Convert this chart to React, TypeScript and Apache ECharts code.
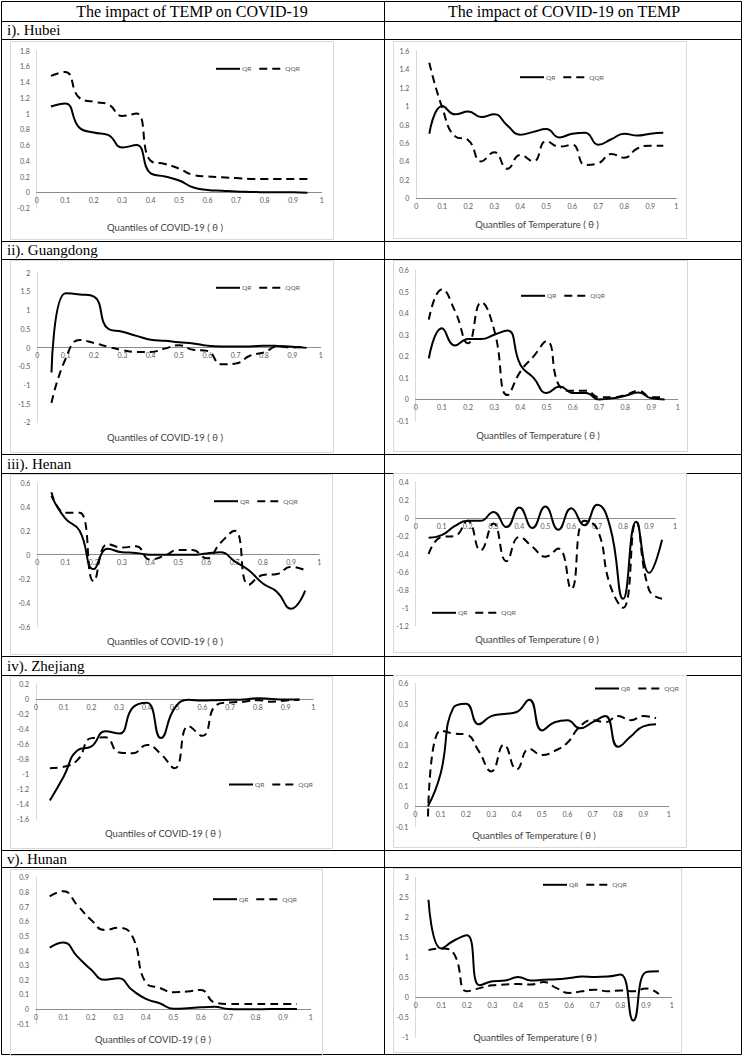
import React, { useEffect, useRef } from "react";
import * as echarts from "echarts";

// ---------- data ----------
const quantiles = [0.05, 0.1, 0.15, 0.2, 0.25, 0.3, 0.35, 0.4, 0.45, 0.5, 0.55, 0.6, 0.65, 0.7, 0.75, 0.8, 0.85, 0.9, 0.95];

const hubeiTempQR = [1.09, 1.13, 0.82, 0.76, 0.73, 0.57, 0.6, 0.24, 0.2, 0.15, 0.06, 0.03, 0.02, 0.01, 0.005, 0, 0, 0, -0.005];
const hubeiTempQQR = [1.48, 1.53, 1.2, 1.15, 1.12, 0.97, 1.0, 0.4, 0.36, 0.3, 0.22, 0.2, 0.19, 0.18, 0.17, 0.17, 0.17, 0.17, 0.17];
const hubeiCovidQR = [0.7, 1.0, 0.91, 0.94, 0.88, 0.91, 0.79, 0.69, 0.72, 0.75, 0.66, 0.7, 0.71, 0.58, 0.64, 0.7, 0.68, 0.7, 0.71];
const hubeiCovidQQR = [1.47, 0.98, 0.67, 0.63, 0.4, 0.5, 0.32, 0.47, 0.4, 0.62, 0.56, 0.58, 0.36, 0.38, 0.48, 0.44, 0.54, 0.57, 0.57];

const guangdongTempQR = [-0.67, 1.45, 1.42, 1.36, 0.5, 0.42, 0.31, 0.21, 0.18, 0.14, 0.11, 0.05, 0.03, 0.03, 0.03, 0.05, 0.04, 0.02, -0.01];
const guangdongTempQQR = [-1.48, -0.3, 0.2, 0.12, 0.02, -0.07, -0.12, -0.12, -0.03, 0.06, -0.06, -0.09, -0.45, -0.43, -0.22, -0.13, 0.03, 0.0, 0.03];
const guangdongCovidQR = [0.19, 0.33, 0.25, 0.28, 0.28, 0.3, 0.32, 0.16, 0.1, 0.03, 0.06, 0.03, 0.03, 0.0, 0.005, 0.017, 0.032, 0.005, 0.0];
const guangdongCovidQQR = [0.37, 0.51, 0.41, 0.26, 0.45, 0.32, 0.02, 0.13, 0.2, 0.27, 0.06, 0.04, 0.04, 0.01, 0.01, 0.02, 0.04, 0.01, 0.01];

const henanTempQR = [0.49, 0.3, 0.2, -0.12, 0.05, 0.02, 0.015, 0.0, 0.0, 0.0, 0.0, 0.01, 0.02, -0.055, -0.13, -0.24, -0.31, -0.45, -0.3];
const henanTempQQR = [0.52, 0.35, 0.35, -0.22, 0.09, 0.06, 0.07, -0.04, -0.01, 0.04, 0.04, -0.03, 0.1, 0.2, -0.25, -0.17, -0.16, -0.1, -0.13];
const henanCovidQR = [-0.22, -0.19, -0.09, -0.03, -0.03, 0.07, -0.1, 0.12, -0.11, 0.13, -0.13, 0.11, -0.08, 0.15, -0.1, -0.9, -0.04, -0.61, -0.24];
const henanCovidQQR = [-0.4, -0.21, -0.2, -0.03, -0.36, -0.06, -0.48, -0.21, -0.32, -0.43, -0.34, -0.79, -0.03, -0.12, -0.75, -1.0, -0.04, -0.8, -0.9];

const zhejiangTempQR = [-1.35, -1.03, -0.68, -0.63, -0.43, -0.46, -0.11, -0.05, -0.52, -0.12, -0.01, -0.02, -0.015, -0.01, -0.005, 0.01, 0.0, -0.005, -0.005];
const zhejiangTempQQR = [-0.92, -0.9, -0.81, -0.52, -0.51, -0.71, -0.72, -0.61, -0.73, -0.92, -0.36, -0.49, -0.08, -0.045, -0.035, -0.015, -0.035, -0.02, -0.01];
const zhejiangCovidQR = [0.0, 0.16, 0.48, 0.5, 0.4, 0.44, 0.45, 0.46, 0.52, 0.37, 0.41, 0.42, 0.38, 0.41, 0.44, 0.29, 0.34, 0.39, 0.4];
const zhejiangCovidQQR = [-0.05, 0.37, 0.355, 0.35, 0.27, 0.17, 0.3, 0.18, 0.28, 0.25, 0.27, 0.31, 0.39, 0.42, 0.41, 0.44, 0.42, 0.44, 0.43];

const hunanTempQR = [0.42, 0.455, 0.36, 0.27, 0.2, 0.21, 0.13, 0.07, 0.04, 0.002, 0.005, 0.012, 0.015, 0.0, -0.002, -0.002, 0, 0, 0];
const hunanTempQQR = [0.77, 0.805, 0.71, 0.61, 0.54, 0.555, 0.5, 0.18, 0.145, 0.115, 0.12, 0.13, 0.045, 0.035, 0.035, 0.035, 0.035, 0.035, 0.035];
const hunanCovidQR = [2.44, 1.22, 1.42, 1.55, 0.3, 0.4, 0.42, 0.51, 0.42, 0.44, 0.45, 0.48, 0.52, 0.51, 0.52, 0.57, -0.58, 0.63, 0.65];
const hunanCovidQQR = [1.18, 1.22, 1.08, 0.15, 0.23, 0.3, 0.32, 0.33, 0.32, 0.38, 0.23, 0.11, 0.15, 0.19, 0.15, 0.17, 0.15, 0.22, 0.08];

const seriesNames = ["QR", "QQR"];
const columnHeaders = ["The impact of TEMP on COVID-19", "The impact of COVID-19 on TEMP"];
const rowLabels = ["i). Hubei", "ii). Guangdong", "iii). Henan", "iv). Zhejiang", "v). Hunan"];
const covidAxisTitle = "Quantiles of COVID-19 ( \u03b8 )";
const tempAxisTitle = "Quantiles of Temperature ( \u03b8 )";

// ---------- layout ----------
const panels = [
  { qr: hubeiTempQR, qqr: hubeiTempQQR, yMin: -0.2, yMax: 1.8, yStep: 0.2, g: [36.7, 50.7, 285, 157.3], lg: [215, 69.3], t: covidAxisTitle, tp: [165, 227] },
  { qr: hubeiCovidQR, qqr: hubeiCovidQQR, yMin: 0, yMax: 1.6, yStep: 0.2, g: [416.3, 50.7, 260, 147.6], lg: [519, 77.7], t: tempAxisTitle, tp: [537, 224] },
  { qr: guangdongTempQR, qqr: guangdongTempQQR, yMin: -2, yMax: 2, yStep: 0.5, g: [37.3, 272.7, 283.4, 149.6], lg: [215, 288.3], t: covidAxisTitle, tp: [165, 437.3] },
  { qr: guangdongCovidQR, qqr: guangdongCovidQQR, yMin: -0.1, yMax: 0.6, yStep: 0.1, g: [415.7, 270, 262, 151], lg: [520, 296.3], t: tempAxisTitle, tp: [538, 435.7] },
  { qr: henanTempQR, qqr: henanTempQQR, yMin: -0.6, yMax: 0.6, yStep: 0.2, g: [37.3, 482.7, 282, 144], lg: [213, 501.7], t: covidAxisTitle, tp: [165, 641.7] },
  { qr: henanCovidQR, qqr: henanCovidQQR, yMin: -1.2, yMax: 0.4, yStep: 0.2, g: [415.7, 482.3, 259.3, 143.4], lg: [431, 613.3], t: tempAxisTitle, tp: [537, 639] },
  { qr: zhejiangTempQR, qqr: zhejiangTempQQR, yMin: -1.6, yMax: 0.2, yStep: 0.2, g: [36, 684, 277.3, 135.3], lg: [228, 785], t: covidAxisTitle, tp: [163, 833.3] },
  { qr: zhejiangCovidQR, qqr: zhejiangCovidQQR, yMin: -0.1, yMax: 0.6, yStep: 0.1, g: [415.3, 683.3, 253.4, 143.4], lg: [594, 689], t: tempAxisTitle, tp: [534, 835] },
  { qr: hunanTempQR, qqr: hunanTempQQR, yMin: -0.1, yMax: 0.9, yStep: 0.1, g: [36, 877.3, 274.7, 146.4], lg: [212, 899.7], t: covidAxisTitle, tp: [153, 1039.7] },
  { qr: hunanCovidQR, qqr: hunanCovidQQR, yMin: -1, yMax: 3, yStep: 0.5, g: [415.7, 877.3, 256, 160], lg: [542, 885.3], t: tempAxisTitle, tp: [535, 1037] },
];

// chart-area boxes [x, y, w, h]
const boxes = [
  [10, 41, 323, 198], [393, 41, 293, 197],
  [10, 260, 323, 192], [393, 260, 294, 191],
  [10, 474, 322, 180], [393, 473, 293, 179],
  [10, 676, 322, 172], [393, 675, 293, 172],
  [10, 869, 312, 186], [393, 868, 288, 184],
];

const rowLines = [21, 39, 241, 259, 454, 473, 656, 675, 850, 867];
const labelRowCenters = [30, 250, 463.5, 665.5, 858.5];

const AX_FONT = "Lato, 'Liberation Sans', sans-serif";
const SERIF = "'Liberation Serif', 'Times New Roman', serif";

export default function App() {
  const ref = useRef<HTMLDivElement>(null);
  useEffect(() => {
    if (!ref.current) return;
    const chart = echarts.init(ref.current, undefined, { renderer: "svg" });

    const graphics: any[] = [];
    // table
    graphics.push({ type: "rect", shape: { x: 1.5, y: 1.5, width: 740, height: 1053 }, style: { fill: "none", stroke: "#000", lineWidth: 1 }, silent: true });
    rowLines.forEach((y) => {
      graphics.push({ type: "line", shape: { x1: 1.5, y1: y + 0.5, x2: 741.5, y2: y + 0.5 }, style: { stroke: "#000", lineWidth: 1 }, silent: true });
    });
    graphics.push({ type: "line", shape: { x1: 384.5, y1: 1.5, x2: 384.5, y2: 1054.5 }, style: { stroke: "#000", lineWidth: 1 }, silent: true });
    columnHeaders.forEach((h, i) => {
      graphics.push({ type: "text", x: i === 0 ? 192 : 564, y: 11.5, style: { text: h, fontFamily: SERIF, fontSize: 16, fill: "#000", textAlign: "center", textVerticalAlign: "middle" }, silent: true });
    });
    rowLabels.forEach((r, i) => {
      graphics.push({ type: "text", x: 7, y: labelRowCenters[i], style: { text: r, fontFamily: SERIF, fontSize: 15, fill: "#000", textAlign: "left", textVerticalAlign: "middle" }, silent: true });
    });
    boxes.forEach((b) => {
      graphics.push({ type: "rect", shape: { x: b[0] + 0.5, y: b[1] + 0.5, width: b[2], height: b[3] }, style: { fill: "none", stroke: "#d9d9d9", lineWidth: 1 }, silent: true });
    });
    panels.forEach((p) => {
      graphics.push({ type: "text", x: p.tp[0], y: p.tp[1], style: { text: p.t, fontFamily: AX_FONT, fontSize: 9.5, fill: "#404040", textAlign: "center", textVerticalAlign: "middle" }, silent: true });
    });

    const option: any = {
      animation: false,
      backgroundColor: "#ffffff",
      grid: panels.map((p) => ({ left: p.g[0], top: p.g[1], width: p.g[2], height: p.g[3], containLabel: false })),
      xAxis: panels.map((p, i) => ({
        type: "value",
        gridIndex: i,
        min: 0,
        max: 1,
        interval: 0.1,
        position: "bottom",
        // lift the whole axis (line + labels) onto the y = 0 level of its grid
        offset: -(p.g[3] * (0 - p.yMin)) / (p.yMax - p.yMin),
        axisLine: { show: true, onZero: false, lineStyle: { color: "#8c8c8c", width: 1 } },
        axisTick: { show: false },
        splitLine: { show: false },
        axisLabel: { fontSize: 7, color: "#595959", margin: 4, fontFamily: AX_FONT },
      })),
      yAxis: panels.map((p, i) => ({
        type: "value",
        gridIndex: i,
        min: p.yMin,
        max: p.yMax,
        interval: p.yStep,
        axisLine: { show: true, onZero: false, lineStyle: { color: "#d9d9d9", width: 1 } },
        axisTick: { show: false },
        splitLine: { show: false },
        axisLabel: { fontSize: 7, color: "#595959", margin: 7, fontFamily: AX_FONT },
      })),
      legend: panels.map((p) => ({
        data: seriesNames,
        left: p.lg[0],
        top: p.lg[1] - 4,
        orient: "horizontal",
        itemWidth: 24,
        itemHeight: 8,
        itemGap: 7,
        padding: 0,
        selectedMode: false,
        itemStyle: { opacity: 0 },
        textStyle: { fontSize: 6.5, color: "#595959", fontFamily: AX_FONT, padding: [0, 0, 0, -3] },
      })),
      series: panels.flatMap((p, i) => [
        {
          type: "line",
          name: seriesNames[0],
          xAxisIndex: i,
          yAxisIndex: i,
          data: quantiles.map((q, j) => [q, p.qr[j]]),
          smooth: 0.5,
          symbol: "none",
          showSymbol: false,
          itemStyle: { color: "#000" },
          lineStyle: { color: "#000", width: 2 },
        },
        {
          type: "line",
          name: seriesNames[1],
          xAxisIndex: i,
          yAxisIndex: i,
          data: quantiles.map((q, j) => [q, p.qqr[j]]),
          smooth: 0.5,
          symbol: "none",
          showSymbol: false,
          itemStyle: { color: "#000" },
          lineStyle: { color: "#000", width: 2, type: [8, 5] },
        },
      ]),
      graphic: graphics,
    };
    chart.setOption(option);
    return () => chart.dispose();
  }, []);
  return <div ref={ref} style={{ position: "absolute", left: 0, top: 0, width: 743, height: 1057 }} />;
}
